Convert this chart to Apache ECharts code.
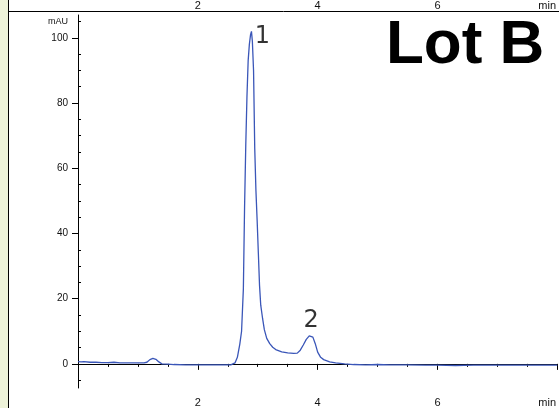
<!DOCTYPE html>
<html>
<head>
<meta charset="utf-8">
<script src="https://cdn.jsdelivr.net/npm/echarts@6/dist/echarts.min.js"></script>
<style>
  html, body { margin: 0; padding: 0; background: #fff; }
  #chart { width: 559px; height: 408px; }
</style>
</head>
<body>
<div id="chart"></div>
<script>
// retention time (min) and detector signal (mAU)
var times = [0.00, 0.05, 0.10, 0.20, 0.30, 0.40, 0.50, 0.60, 0.70, 0.80, 0.90, 1.00, 1.10, 1.15, 1.20, 1.25, 1.30, 1.35, 1.40, 1.50,
    1.60, 1.80, 2.00, 2.20, 2.40, 2.55, 2.62, 2.66, 2.70, 2.73, 2.76, 2.78, 2.80, 2.82, 2.84, 2.86, 2.88, 2.895, 2.91, 2.93,
    2.95, 2.97, 2.99, 3.01, 3.03, 3.05, 3.08, 3.11, 3.15, 3.20, 3.25, 3.30, 3.40, 3.50, 3.60, 3.66, 3.71, 3.76, 3.81, 3.86,
    3.89, 3.92, 3.96, 4.00, 4.05, 4.10, 4.20, 4.30, 4.45, 4.60, 4.80, 5.00, 5.20, 5.50, 5.80, 6.00, 6.30, 6.60, 7.00, 7.40,
    7.80, 8.00];
var signal = [0.7, 0.6, 0.7, 0.5, 0.5, 0.4, 0.4, 0.5, 0.3, 0.3, 0.3, 0.3, 0.3, 0.5, 1.3, 1.7, 1.4, 0.6, 0.0, -0.1,
    -0.2, -0.3, -0.3, -0.3, -0.3, -0.3, 0.3, 2, 6, 10, 23, 48, 67, 82, 93, 98, 101, 102, 99, 90,
    66, 53, 44, 34, 24, 18, 14, 10.5, 7.8, 6.2, 5.1, 4.4, 3.7, 3.4, 3.2, 3.3, 4.2, 5.8, 7.5, 8.6,
    8.8, 8.2, 6.2, 3.6, 2.0, 1.3, 0.6, 0.3, 0.0, -0.2, -0.3, -0.2, -0.3, -0.3, -0.4, -0.4, -0.5, -0.4, -0.4, -0.4,
    -0.4, -0.4];

var peakNames = ['1', '2'];
var peakTimes = [2.895, 3.89];
var peakHeights = [102, 8.8];

var xLabelValues = [2, 4, 6, 7.83];
var xMajorTicks = [0, 2, 4, 6, 8];
var xMinorTicks = [0.5, 1, 1.5, 2.5, 3, 3.5, 4.5, 5, 5.5, 6.5, 7, 7.5];
var yLabelValues = [0, 20, 40, 60, 80, 100, 105];
var yMajorTicks = [0, 20, 40, 60, 80, 100];
var yMinorTicks = [-5, 5, 10, 15, 25, 30, 35, 45, 50, 55, 65, 70, 75, 85, 90, 95, 105];

var trace = times.map(function (t, i) { return [t, signal[i]]; });
var labelOffsets = [[11, 5], [0, -14]];
var peaks = peakTimes.map(function (t, i) {
    return { name: peakNames[i], value: [t, peakHeights[i]], label: { offset: labelOffsets[i] } };
});

var dom = document.getElementById('chart');
var myChart = echarts.init(dom);

function xLabel(v) {
    return v > 7 ? 'min' : String(v);
}
var hidden = { show: false };

var option = {
    animation: false,
    grid: { left: 78, right: 0, top: 12, bottom: 19.5 },
    xAxis: [
        {
            type: 'value', min: 0, max: 8, position: 'bottom',
            axisLine: { show: true, lineStyle: { color: '#000', width: 1 } },
            axisTick: { show: true, length: 6, customValues: xMajorTicks, lineStyle: { color: '#000' } },
            axisLabel: { customValues: xLabelValues, formatter: xLabel, margin: 9, fontSize: 11,
                color: '#111', fontFamily: 'Liberation Sans' },
            splitLine: hidden
        },
        {
            type: 'value', min: 0, max: 8, position: 'bottom',
            axisLine: hidden,
            axisTick: { show: true, length: 3, customValues: xMinorTicks, lineStyle: { color: '#000' } },
            axisLabel: hidden, splitLine: hidden
        },
        {
            type: 'value', min: 0, max: 8, position: 'top',
            axisLine: hidden, axisTick: hidden,
            axisLabel: { customValues: xLabelValues, formatter: xLabel, margin: 4, fontSize: 11,
                color: '#111', fontFamily: 'Liberation Sans' },
            splitLine: hidden
        }
    ],
    yAxis: [
        {
            type: 'value', min: -7.4, max: 107,
            axisLine: { show: true, lineStyle: { color: '#000', width: 1 } },
            axisTick: { show: true, length: 6, customValues: yMajorTicks, lineStyle: { color: '#000' } },
            axisLabel: {
                customValues: yLabelValues, margin: 10, fontSize: 10, color: '#111', fontFamily: 'Liberation Sans',
                formatter: function (v) { return v > 101 ? '{u|mAU}' : String(v); },
                rich: { u: { fontSize: 9, color: '#111', fontFamily: 'Liberation Sans' } }
            },
            splitLine: hidden
        },
        {
            type: 'value', min: -7.4, max: 107,
            axisLine: hidden,
            axisTick: { show: true, length: 3, customValues: yMinorTicks, lineStyle: { color: '#000' } },
            axisLabel: hidden, splitLine: hidden
        }
    ],
    series: [
        {
            type: 'line',
            data: trace,
            showSymbol: false,
            lineStyle: { color: '#3a56b8', width: 1.3 }
        },
        {
            type: 'scatter',
            data: peaks,
            symbolSize: 2,
            itemStyle: { color: 'rgba(0,0,0,0)' },
            silent: true,
            label: {
                show: true, position: 'inside', color: '#000', fontSize: 24, fontFamily: 'DejaVu Sans',
                formatter: function (p) { return p.name; }
            }
        }
    ],
    graphic: [
        { type: 'rect', shape: { x: 0, y: 0, width: 8, height: 408 }, style: { fill: '#eef3d9' } },
        { type: 'line', shape: { x1: 8.5, y1: 0, x2: 8.5, y2: 408 }, style: { stroke: '#000', lineWidth: 1 } },
        { type: 'line', shape: { x1: 8, y1: 11.5, x2: 559, y2: 11.5 }, style: { stroke: '#000', lineWidth: 1 } },
        { type: 'text', left: 386, top: 15,
            style: { text: 'Lot B', fontSize: 62, fontWeight: 'bold', fontFamily: 'Liberation Sans', fill: '#000' } }
    ]
};

if (option && typeof option === 'object') {
    myChart.setOption(option, true);
}
</script>
</body>
</html>
